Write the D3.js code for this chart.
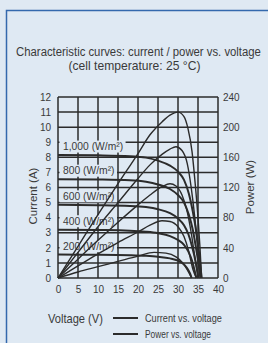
<!DOCTYPE html>
<html>
<head>
<meta charset="utf-8">
<script src="https://cdn.jsdelivr.net/npm/d3@7"></script>
<style>
    body { margin: 0; background: #dfe9f3; }
    svg { display: block; }
    .tick text { font-family: 'Liberation Sans', Arial, sans-serif; font-size: 10px; fill: #3a3a3a; }
</style>
</head>
<body>
<script>
// data
const irradiance = ['1,000', '800', '600', '400', '200']
const xTicks = [0, 5, 10, 15, 20, 25, 30, 35, 40]
const currentTicks = [0, 1, 2, 3, 4, 5, 6, 7, 8, 9, 10, 11, 12]
const powerTicks = [0, 40, 80, 120, 160, 200, 240]

// current vs. voltage, [V, A]
const iv1000 = [[0, 8.15], [10, 8.13], [18, 8.08], [22, 7.98], [25, 7.78], [28, 7.45], [30, 7.05], [31.5, 6.5], [32.7, 5.6], [33.7, 4.4], [34.6, 3.0], [35.3, 1.6], [35.9, 0]]
const iv800 = [[0, 6.55], [10, 6.53], [18, 6.48], [22, 6.38], [25, 6.2], [28, 5.9], [30, 5.5], [31.5, 5.0], [32.7, 4.2], [33.7, 3.2], [34.5, 2.0], [35.1, 1.0], [35.6, 0]]
const iv600 = [[0, 4.85], [10, 4.83], [18, 4.78], [22, 4.7], [25, 4.56], [28, 4.3], [30, 3.95], [31.5, 3.5], [32.6, 2.9], [33.5, 2.1], [34.3, 1.2], [35.1, 0]]
const iv400 = [[0, 3.2], [10, 3.18], [18, 3.14], [22, 3.07], [25, 2.97], [28, 2.78], [30, 2.52], [31.5, 2.2], [32.6, 1.75], [33.5, 1.15], [34.1, 0.55], [34.6, 0]]
const iv200 = [[0, 1.55], [10, 1.54], [18, 1.51], [22, 1.47], [25, 1.41], [28, 1.3], [30, 1.15], [31.3, 0.95], [32.3, 0.65], [33.0, 0.3], [33.4, 0]]

// power vs. voltage, [V, W]
const pv1000 = [[0, 0], [5, 42], [10, 84], [15, 125], [20, 165], [23, 190], [26, 207], [28, 216], [30, 220], [31.5, 214], [32.5, 198], [33.5, 168], [34.3, 125], [35, 80], [35.5, 40], [35.9, 0]]
const pv800 = [[0, 0], [5, 34], [10, 68], [15, 100], [20, 132], [23, 150], [26, 164], [28, 171], [29.5, 174], [31, 169], [32.3, 152], [33.3, 120], [34.2, 80], [35, 35], [35.6, 0]]
const pv600 = [[0, 0], [5, 25], [10, 50], [15, 74], [20, 97], [23, 110], [26, 121], [28, 125], [29.5, 122], [31, 110], [32.3, 88], [33.3, 60], [34.3, 25], [35.1, 0]]
const pv400 = [[0, 0], [5, 16], [10, 32], [15, 47], [20, 61], [23, 70], [26, 76], [28, 75], [30, 68], [31.5, 55], [32.7, 35], [33.7, 12], [34.6, 0]]
const pv200 = [[0, 0], [5, 8], [10, 15], [15, 22], [20, 29], [24, 34], [27, 33], [29.5, 28], [31, 21], [32.3, 11], [33.4, 0]]

const ivCurves = [iv1000, iv800, iv600, iv400, iv200]
const pvCurves = [pv1000, pv800, pv600, pv400, pv200]

const width = 268
const height = 343
const ink = '#2b2b2b'
const textColor = '#3a3a3a'
const bg = '#dfe9f3'
const sans = "'Liberation Sans', Arial, sans-serif"

let svg = d3.select('body').append('svg')
    .attr('width', width)
    .attr('height', height)

svg.append('rect')
    .attr('width', width)
    .attr('height', height)
    .attr('fill', bg)

// panel border (continues off the picture)
svg.append('path')
    .attr('d', `M6.5,${height} V10.5 H${width}`)
    .attr('fill', 'none')
    .attr('stroke', '#3469ad')
    .attr('stroke-width', 1.5)

// condensed text: squeeze a normal font to the wanted width
function narrowText(str, cx, baseline, size, targetWidth, anchor) {
    let g = svg.append('g')
    let t = g.append('text')
        .attr('font-family', sans)
        .attr('font-size', size)
        .attr('fill', textColor)
        .attr('text-anchor', anchor)
        .text(str)
    const sx = targetWidth / t.node().getComputedTextLength()
    g.attr('transform', `translate(${cx},${baseline}) scale(${sx},1)`)
    return g
}

// title
narrowText('Characteristic curves: current / power vs. voltage', 138.5, 56, 12.5, 245, 'middle')
narrowText('(cell temperature: 25 °C)', 134.5, 70, 12.5, 132, 'middle')

// scales
const x = d3.scaleLinear().domain([0, 40]).range([58, 218])
const y = d3.scaleLinear().domain([0, 12]).range([278, 97])
const yPower = d3.scaleLinear().domain([0, 240]).range([278, 97])

// grid
svg.append('g')
    .selectAll('line')
    .data(xTicks)
    .join('line')
    .attr('x1', d => x(d))
    .attr('x2', d => x(d))
    .attr('y1', y(0))
    .attr('y2', y(12))
    .attr('stroke', ink)
    .attr('stroke-width', 1.5)

svg.append('g')
    .selectAll('line')
    .data(currentTicks)
    .join('line')
    .attr('x1', x(0))
    .attr('x2', x(40))
    .attr('y1', d => y(d))
    .attr('y2', d => y(d))
    .attr('stroke', ink)
    .attr('stroke-width', 1.5)

// axes
svg.append('g')
    .attr('transform', `translate(${x(0)},0)`)
    .call(d3.axisLeft(y).tickValues(currentTicks).tickSize(0).tickPadding(7))
    .call(g => g.select('.domain').remove())

svg.append('g')
    .attr('transform', `translate(${x(40)},0)`)
    .call(d3.axisRight(yPower).tickValues(powerTicks).tickSize(0).tickPadding(5))
    .call(g => g.select('.domain').remove())

svg.append('g')
    .attr('transform', `translate(0,${y(0)})`)
    .call(d3.axisBottom(x).tickValues(xTicks).tickSize(0).tickPadding(8))
    .call(g => g.select('.domain').remove())

// axis labels
svg.append('text')
    .attr('transform', `translate(37,196) rotate(-90)`)
    .attr('text-anchor', 'middle')
    .attr('font-family', sans)
    .attr('font-size', 11.5)
    .attr('fill', textColor)
    .text('Current (A)')

svg.append('text')
    .attr('transform', `translate(254,187) rotate(-90)`)
    .attr('text-anchor', 'middle')
    .attr('font-family', sans)
    .attr('font-size', 11.5)
    .attr('fill', textColor)
    .text('Power (W)')

// irradiance labels
const labels = svg.append('g')
irradiance.forEach((name, i) => {
    const isc = ivCurves[i][0][1]
    const cy = y(isc) - 8.5
    let g = labels.append('g')
    let t = g.append('text')
        .attr('x', 63)
        .attr('y', cy)
        .attr('dy', '0.35em')
        .attr('font-family', sans)
        .attr('font-size', 10.3)
        .attr('fill', textColor)
        .text(`${name} (W/m²)`)
    const w = t.node().getComputedTextLength()
    g.insert('rect', 'text')
        .attr('x', 59.5)
        .attr('y', cy - 6)
        .attr('width', w + 6)
        .attr('height', 12)
        .attr('fill', bg)
})

// curves
const ivLine = d3.line()
    .x(d => x(d[0]))
    .y(d => y(d[1]))
    .curve(d3.curveMonotoneX)

const pvLine = d3.line()
    .x(d => x(d[0]))
    .y(d => yPower(d[1]))
    .curve(d3.curveMonotoneX)

svg.append('g')
    .selectAll('path')
    .data(pvCurves)
    .join('path')
    .attr('d', pvLine)
    .attr('fill', 'none')
    .attr('stroke', ink)
    .attr('stroke-width', 1.4)

svg.append('g')
    .selectAll('path')
    .data(ivCurves)
    .join('path')
    .attr('d', ivLine)
    .attr('fill', 'none')
    .attr('stroke', ink)
    .attr('stroke-width', 2)

// legend
narrowText('Voltage (V)', 48, 322.5, 13, 55, 'start')

const legendItems = ['Current vs. voltage', 'Power vs. voltage']
const legendLengths = [77, 66]
legendItems.forEach((name, i) => {
    const ly = 318 + i * 16
    svg.append('line')
        .attr('x1', 113)
        .attr('x2', 138)
        .attr('y1', ly)
        .attr('y2', ly)
        .attr('stroke', ink)
        .attr('stroke-width', 2)
    narrowText(name, 145, ly + 3.5, 10.5, legendLengths[i], 'start')
})
</script>
</body>
</html>
